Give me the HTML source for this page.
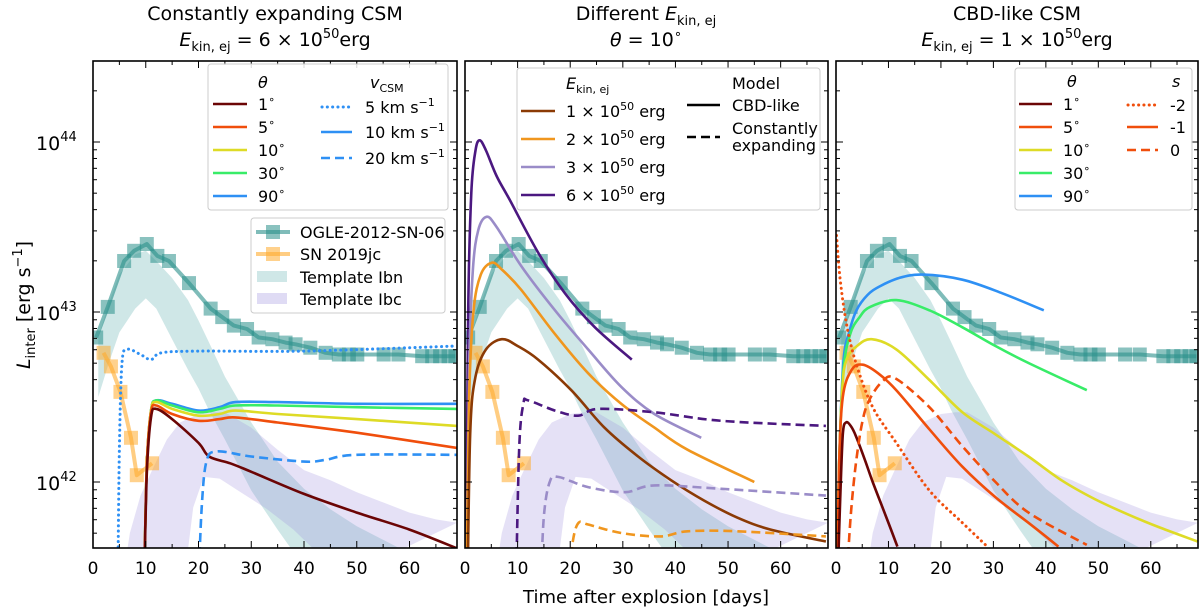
<!DOCTYPE html>
<html><head><meta charset="utf-8">
<style>
html,body{margin:0;padding:0;background:#fff;}
svg{display:block;font-family:"DejaVu Sans","Liberation Sans",sans-serif;}
</style></head>
<body>
<svg id="chart" width="1200" height="609" viewBox="0 0 1200 609" xmlns="http://www.w3.org/2000/svg">
<defs>
<clipPath id="c0"><rect x="93" y="61" width="364" height="487"/></clipPath>
<clipPath id="c1"><rect x="465" y="61" width="363" height="487"/></clipPath>
<clipPath id="c2"><rect x="836" y="61" width="362" height="487"/></clipPath>
</defs>
<g id="layer-bands"></g>
<g id="layer-obs"></g>
<g id="layer-models"></g>
<g id="layer-axes"></g>
<g id="layer-legend"></g>
<g id="layer-text">
<text x="275" y="20" font-size="19" text-anchor="middle">Constantly expanding CSM</text>
<text x="275" y="46" font-size="19" text-anchor="middle"><tspan font-style="italic">E</tspan><tspan font-size="13" dy="5">kin, ej</tspan><tspan dy="-5"> = 6 × 10</tspan><tspan font-size="13" dy="-8">50</tspan><tspan dy="8">erg</tspan></text>
<text x="646" y="20" font-size="19" text-anchor="middle">Different <tspan font-style="italic">E</tspan><tspan font-size="13" dy="5">kin, ej</tspan></text>
<text x="646" y="46" font-size="19" text-anchor="middle"><tspan font-style="italic">θ</tspan> = 10<tspan font-size="13" dy="-8">∘</tspan></text>
<text x="1017" y="20" font-size="19" text-anchor="middle">CBD-like CSM</text>
<text x="1017" y="46" font-size="19" text-anchor="middle"><tspan font-style="italic">E</tspan><tspan font-size="13" dy="5">kin, ej</tspan><tspan dy="-5"> = 1 × 10</tspan><tspan font-size="13" dy="-8">50</tspan><tspan dy="8">erg</tspan></text>
<text x="646" y="603" font-size="18" text-anchor="middle">Time after explosion [days]</text>
<text transform="translate(30,305) rotate(-90)" font-size="19" text-anchor="middle"><tspan font-style="italic">L</tspan><tspan font-size="13" dy="5">inter</tspan><tspan dy="-5"> [erg s</tspan><tspan font-size="13" dy="-8">−1</tspan><tspan dy="8">]</tspan></text>
</g>
</svg>
<script>
// ---- data (log10 L) ----
const ogleDays = [0.6,2.8,5.9,7.8,10.2,12.2,14.4,18.2,22.3,24.5,26.7,29.2,31.4,34,36.5,38.4,41.2,44.1,46.6,48.5,50.1,55.1,57.9,62.4,64.3,65.8,67.4,68.7];
const ogleVals = [42.85,43.03,43.3,43.36,43.4,43.33,43.3,43.17,43.02,42.97,42.92,42.9,42.85,42.84,42.82,42.81,42.79,42.76,42.75,42.75,42.75,42.75,42.75,42.74,42.74,42.74,42.74,42.74];
const jcDays = [2,3.4,5.2,7.2,8.3,11.2];
const jcVals = [42.76,42.68,42.53,42.26,42.04,42.11];
const ibnUpDays = [1,3,5,8,10,12,15,18,20,22,25,30,35,40,45,50,55,60,65,69];
const ibnUpVals = [42.85,43.05,43.22,43.34,43.36,43.3,43.2,43.07,42.95,42.82,42.62,42.35,42.12,41.96,41.84,41.74,41.66,41.58,41.5,41.45];
const ibnLoDays = [1,3,5,8,10,12,15,18,20,22,25,30,35,40,45,69];
const ibnLoVals = [42.5,42.7,42.88,43.02,43.08,43.02,42.84,42.66,42.55,42.42,42.25,41.95,41.72,41.5,41.4,41.4];
const ibcUpDays = [5.5,7,9,11.5,14,16.5,20,22.8,25,30,35,40,45,50,55,60,65,69];
const ibcUpVals = [41.4,41.7,41.92,42.09,42.25,42.35,42.4,42.41,42.41,42.32,42.19,42.07,42.01,41.94,41.88,41.82,41.78,41.76];
const ibcLoDays = [5.5,10,15,17.8,19,21,24,28,33,38,42,45];
const ibcLoVals = [41.4,41.4,41.4,41.55,41.85,42.03,42.02,41.94,41.84,41.72,41.6,41.4];

// panel 1: constantly expanding, theta & vCSM
const p1Days = [9.7,10.2,11,12,15,20,24,27,35,50,69];
const p1Theta90 = [41.4,42.1,42.42,42.48,42.46,42.42,42.44,42.47,42.47,42.46,42.46];
const p1Theta30 = [41.4,42.1,42.42,42.48,42.45,42.41,42.43,42.45,42.45,42.44,42.43];
const p1Theta10 = [41.4,42.1,42.42,42.47,42.43,42.39,42.40,42.42,42.40,42.37,42.33];
const p1Theta5  = [41.4,42.1,42.41,42.45,42.40,42.36,42.37,42.38,42.35,42.29,42.2];
const p1Theta1Days = [9.7,10.2,11,12,15,20,22,26,30,40,50,60,69];
const p1Theta1 = [41.4,42.05,42.38,42.43,42.37,42.23,42.15,42.11,42.06,41.93,41.82,41.72,41.61];
const p1V5Days = [4.7,5.0,5.5,6.5,9,11,13,20,40,69];
const p1V5 = [41.4,42.2,42.7,42.78,42.75,42.72,42.76,42.77,42.77,42.8];
const p1V20Days = [20,20.6,21.5,23.5,30,40,44,50,69];
const p1V20 = [41.4,41.85,42.12,42.18,42.15,42.12,42.13,42.16,42.16];

// panel 2: different Ekin
const p2E6Days = [0.2,0.6,1.2,2,2.8,4,6,8.5,13.9,19,24.7,31.7];
const p2E6 = [41.4,43.0,43.7,43.95,44.01,43.95,43.8,43.66,43.35,43.11,42.91,42.72];
const p2E3Days = [0.3,0.8,1.5,2.5,4.1,6,10.7,17.1,23.4,29.7,36,44.9];
const p2E3 = [41.4,42.7,43.25,43.48,43.56,43.5,43.27,43.01,42.78,42.56,42.4,42.26];
const p2E2Days = [0.3,0.8,1.6,3,5.1,7,10.7,17.1,23.4,29.7,36,42.3,55];
const p2E2 = [41.4,42.5,43.0,43.22,43.29,43.25,43.13,42.87,42.64,42.46,42.32,42.19,42.0];
const p2E1Days = [0.5,1,2,4,7,10,13.9,20.2,26.5,32.9,39.2,45.5,51.8,58.1,68.6];
const p2E1 = [41.4,42.3,42.62,42.78,42.84,42.8,42.72,42.54,42.32,42.15,42.01,41.89,41.79,41.72,41.65];
const p2E6ceDays = [9.7,10.3,11.1,12,17.1,21.5,25.3,36,48.7,68.6];
const p2E6ce = [41.4,42.2,42.46,42.48,42.42,42.39,42.43,42.41,42.36,42.33];
const p2E3ceDays = [14.4,15.0,16.1,17.7,23.4,30.4,36,48.7,68.6];
const p2E3ce = [41.4,41.8,42.0,42.03,41.97,41.94,41.98,41.96,41.92];
const p2E2ceDays = [19.8,20.5,21.6,23.4,29.7,37.2,42.3,51.8,68.6];
const p2E2ce = [41.4,41.65,41.76,41.75,41.7,41.68,41.71,41.71,41.68];

// panel 3: CBD-like
const p3T90Days = [0.2,0.6,1.4,2.5,3.9,6,8.3,12,16.5,24.1,31.7,39.6];
const p3T90 = [41.4,42.1,42.7,42.88,43.01,43.1,43.15,43.2,43.22,43.19,43.11,43.01];
const p3T30Days = [0.2,0.6,1.4,2.7,4.5,6.5,11.5,17.8,24.1,30.4,36.7,47.8];
const p3T30 = [41.4,42.1,42.65,42.87,42.97,43.03,43.07,43.01,42.91,42.8,42.7,42.54];
const p3T10Days = [0.2,0.6,1.2,2,4,6.8,11.5,17.8,24.1,30.4,36.7,43,49.3,55.6,61.9,68.9];
const p3T10 = [41.4,42.1,42.55,42.72,42.8,42.84,42.78,42.6,42.41,42.28,42.15,42.01,41.9,41.81,41.73,41.65];
const p3T5Days = [0.2,0.6,1.3,3,5.1,8,11.5,17.8,24.1,30.4,36.7,42.4];
const p3T5 = [41.4,42.1,42.5,42.66,42.69,42.64,42.54,42.31,42.09,41.91,41.76,41.62];
const p3T1Days = [0.3,0.8,1.3,1.9,2.8,3.8,5.5,7,9.5,11.7];
const p3T1 = [41.4,41.9,42.28,42.35,42.33,42.27,42.13,42.0,41.8,41.62];
const p3Sm2Days = [0.1,0.8,2,3.8,7,11.5,17.8,24.1,28.5];
const p3Sm2 = [43.45,43.19,42.93,42.7,42.44,42.23,41.95,41.76,41.63];
const p3S0Days = [2,2.8,3.8,5,6.3,8.8,11.3,17.8,24.1,30.4,36.7,47.8];
const p3S0 = [41.4,41.8,42.11,42.35,42.48,42.59,42.61,42.44,42.21,42.0,41.82,41.63];

const xTicks = [0,10,20,30,40,50,60];
const yMajors = [42,43,44];

// ---- scales ----
const PANELS = [{x0:93,x1:457},{x0:465,x1:828},{x0:836,x1:1198}];
const TOP = 61, BOT = 548, XMAX = 69;
const DOT = "0.1 5.2";
function X(p,d){return PANELS[p].x0 + d*(PANELS[p].x1-PANELS[p].x0)/XMAX;}
function Y(l){return 142 + (44-l)*170;}
const NS = "http://www.w3.org/2000/svg";
function mk(tag, attrs, parent){const e=document.createElementNS(NS,tag);for(const k in attrs)e.setAttribute(k,attrs[k]);parent.appendChild(e);return e;}
function smooth(pts){
  let d = "M"+pts[0][0].toFixed(1)+","+pts[0][1].toFixed(1);
  for(let i=0;i<pts.length-1;i++){
    const p0=pts[i-1]||pts[i], p1=pts[i], p2=pts[i+1], p3=pts[i+2]||p2;
    const c1=[p1[0]+(p2[0]-p0[0])/6, p1[1]+(p2[1]-p0[1])/6];
    const c2=[p2[0]-(p3[0]-p1[0])/6, p2[1]-(p3[1]-p1[1])/6];
    d+="C"+c1[0].toFixed(1)+","+c1[1].toFixed(1)+" "+c2[0].toFixed(1)+","+c2[1].toFixed(1)+" "+p2[0].toFixed(1)+","+p2[1].toFixed(1);
  }
  return d;
}
function pts(p,days,vals){return days.map((d,i)=>[X(p,d),Y(vals[i])]);}

const gB=document.getElementById('layer-bands'), gO=document.getElementById('layer-obs'),
      gM=document.getElementById('layer-models'), gA=document.getElementById('layer-axes'),
      gL=document.getElementById('layer-legend');

for(let p=0;p<3;p++){
  const cb=mk('g',{'clip-path':'url(#c'+p+')'},gB);
  const up=pts(p,ibnUpDays,ibnUpVals), lo=pts(p,ibnLoDays,ibnLoVals).reverse();
  const b1=mk('path',{d:"M"+up.concat(lo).map(q=>q[0].toFixed(1)+","+q[1].toFixed(1)).join("L")+"Z",fill:"rgb(95,175,175)","fill-opacity":"0.3"},cb);
  
  
  const up2=pts(p,ibcUpDays,ibcUpVals), lo2=pts(p,ibcLoDays,ibcLoVals).reverse();
  const b2=mk('path',{d:"M"+up2.concat(lo2).map(q=>q[0].toFixed(1)+","+q[1].toFixed(1)).join("L")+"Z",fill:"rgb(150,135,220)","fill-opacity":"0.25"},cb);
  
  

  const co=mk('g',{'clip-path':'url(#c'+p+')'},gO);
  const op=pts(p,ogleDays,ogleVals);
  const ol=mk('polyline',{points:op.map(q=>q.join(",")).join(" "),fill:"none",stroke:"#2a8f8a","stroke-opacity":"0.6","stroke-width":"4","stroke-linejoin":"round"},co);
  
  
  op.forEach(q=>{
    const r=mk('rect',{x:q[0]-7,y:q[1]-7,width:14,height:14,fill:"#2a8f8a","fill-opacity":"0.55"},co);
    
    
  });
  const jp=pts(p,jcDays,jcVals);
  const jl=mk('polyline',{points:jp.map(q=>q.join(",")).join(" "),fill:"none",stroke:"#ffab2e","stroke-opacity":"0.6","stroke-width":"4","stroke-linejoin":"round"},co);
  
  
  jp.forEach(q=>{
    const r=mk('rect',{x:q[0]-7,y:q[1]-7,width:14,height:14,fill:"#ffab2e","fill-opacity":"0.55"},co);
    
    
  });
}

const C = {dr:"#6b0505", rd:"#f04e0c", yl:"#dedb26", gr:"#38ec68", bl:"#2e90f4",
           br:"#8b3a05", or:"#f0961e", lv:"#9a8cc8", pu:"#4b1880"};
const models = [
 [0,p1Days,p1Theta90,C.bl,"", "p1-theta-90-line"],
 [0,p1Days,p1Theta30,C.gr,"", "p1-theta-30-line"],
 [0,p1Days,p1Theta10,C.yl,"", "p1-theta-10-line"],
 [0,p1Days,p1Theta5,C.rd,"", "p1-theta-5-line"],
 [0,p1Theta1Days,p1Theta1,C.dr,"", "p1-theta-1-line"],
 [0,p1V5Days,p1V5,C.bl,DOT, "p1-vcsm-5-line"],
 [0,p1V20Days,p1V20,C.bl,"9 5", "p1-vcsm-20-line"],
 [1,p2E6Days,p2E6,C.pu,"", "p2-e6-cbd-line"],
 [1,p2E3Days,p2E3,C.lv,"", "p2-e3-cbd-line"],
 [1,p2E2Days,p2E2,C.or,"", "p2-e2-cbd-line"],
 [1,p2E1Days,p2E1,C.br,"", "p2-e1-cbd-line"],
 [1,p2E6ceDays,p2E6ce,C.pu,"9 5", "p2-e6-expanding-line"],
 [1,p2E3ceDays,p2E3ce,C.lv,"9 5", "p2-e3-expanding-line"],
 [1,p2E2ceDays,p2E2ce,C.or,"9 5", "p2-e2-expanding-line"],
 [2,p3T90Days,p3T90,C.bl,"", "p3-theta-90-line"],
 [2,p3T30Days,p3T30,C.gr,"", "p3-theta-30-line"],
 [2,p3T10Days,p3T10,C.yl,"", "p3-theta-10-line"],
 [2,p3T5Days,p3T5,C.rd,"", "p3-theta-5-line"],
 [2,p3T1Days,p3T1,C.dr,"", "p3-theta-1-line"],
 [2,p3Sm2Days,p3Sm2,C.rd,DOT, "p3-s-minus2-line"],
 [2,p3S0Days,p3S0,C.rd,"9 5", "p3-s-0-line"]
];
const mg=[0,1,2].map(p=>mk('g',{'clip-path':'url(#c'+p+')'},gM));
models.forEach(m=>{
  const a={d:smooth(pts(m[0],m[1],m[2])),fill:"none",stroke:m[3],"stroke-width":m[4]===DOT?"3":"2.6","stroke-linecap":m[4]===DOT?"round":"butt"};
  if(m[4]) a["stroke-dasharray"]=m[4];
  const e=mk('path',a,mg[m[0]]);
  
  
});

// ---- axes ----
for(let p=0;p<3;p++){
  const x0=PANELS[p].x0,x1=PANELS[p].x1;
  const fr=mk('rect',{x:x0,y:TOP,width:x1-x0,height:BOT-TOP,fill:"none",stroke:"#000","stroke-width":"1.6"},gA);
  
  
  for(let d=0;d<=XMAX;d+=5){
    const xx=X(p,d), L=(d%10===0)?7:4;
    mk('line',{x1:xx,y1:BOT,x2:xx,y2:BOT-L,stroke:"#000","stroke-width":"1"},gA);
    mk('line',{x1:xx,y1:TOP,x2:xx,y2:TOP+L,stroke:"#000","stroke-width":"1"},gA);
  }
  xTicks.forEach(t=>{
    const tx=mk('text',{x:X(p,t),y:574,"font-size":"17","text-anchor":"middle"},gA);
    tx.textContent=t;
    
    
  });
  for(let dec=41;dec<=44;dec++){
    for(let k=1;k<=9;k++){
      const l=dec+Math.log10(k), yy=Y(l);
      if(yy<TOP||yy>BOT) continue;
      const L=(k===1)?7:4;
      mk('line',{x1:x0,y1:yy,x2:x0+L,y2:yy,stroke:"#000","stroke-width":"1"},gA);
      mk('line',{x1:x1,y1:yy,x2:x1-L,y2:yy,stroke:"#000","stroke-width":"1"},gA);
    }
  }
}
yMajors.forEach(v=>{
  const t=mk('text',{x:36,y:Y(v)+8,"font-size":"19"},gA);
  t.innerHTML='10<tspan font-size="13" dy="-9">'+v+'</tspan>';
  
  
});

// ---- legends ----
function box(x,y,w,h,name){const r=mk('rect',{x:x,y:y,width:w,height:h,rx:3,fill:"#fff","fill-opacity":"0.85",stroke:"#ccc","stroke-width":"1"},gL);}
function entry(x1,x2,y,col,dash,label,tx,name,w){
  const g=mk('g',{},gL);
  
  
  const a={x1:x1,y1:y,x2:x2,y2:y,stroke:col,"stroke-width":w||"2.6"};
  if(dash){a["stroke-dasharray"]=dash; if(dash===DOT){a["stroke-linecap"]="round";a["stroke-width"]="3";}}
  mk('line',a,g);
  const t=mk('text',{x:tx,y:y+6,"font-size":"16"},g);
  t.innerHTML=label;
  return g;
}
function txt(x,y,html,name,anchor){const t=mk('text',{x:x,y:y,"font-size":"16","text-anchor":anchor||"start"},gL);t.innerHTML=html;}
const deg='<tspan font-size="11" dy="-7">∘</tspan>';
// panel 1
box(208,64,240,146,'legend-theta-vcsm');
txt(258,88,'<tspan font-style="italic">θ</tspan>','legend-theta-header');
[[C.dr,"1"],[C.rd,"5"],[C.yl,"10"],[C.gr,"30"],[C.bl,"90"]].forEach((e,i)=>entry(213,247,104+i*23,e[0],"",e[1]+deg,258,'legend-entry-theta-'+e[1]));
txt(370,88,'<tspan font-style="italic">v</tspan><tspan font-size="11" dy="4">CSM</tspan>','legend-vcsm-header');
entry(322,352,107,C.bl,DOT,'5 km s<tspan font-size="11" dy="-7">−1</tspan>',365,'legend-entry-vcsm-5');
entry(321,352,132,C.bl,"",'10 km s<tspan font-size="11" dy="-7">−1</tspan>',365,'legend-entry-vcsm-10');
entry(321,352,158,C.bl,"9 5",'20 km s<tspan font-size="11" dy="-7">−1</tspan>',365,'legend-entry-vcsm-20');
box(251,218,194,95,'legend-observations');
[["#2a8f8a","OGLE-2012-SN-06"],["#ffab2e","SN 2019jc"]].forEach((e,i)=>{
  const y=232+i*22;
  const g=entry(256,290,y,e[0],"",e[1],300,'legend-entry-'+(i?'sn-2019jc':'ogle'),"4");
  g.firstChild.setAttribute('stroke-opacity','0.6');
  mk('rect',{x:266,y:y-7,width:14,height:14,fill:e[0],"fill-opacity":"0.55"},g);
});
[["rgb(95,175,175)",0.3,"Template Ibn"],["rgb(150,135,220)",0.3,"Template Ibc"]].forEach((e,i)=>{
  const y=277+i*22;
  const g=mk('g',{},gL);
  
  
  mk('rect',{x:257,y:y-6,width:30,height:11,fill:e[0],"fill-opacity":e[1]},g);
  const t=mk('text',{x:300,y:y+6,"font-size":"16"},g);t.textContent=e[2];
});
// panel 2
box(517,68,303,142,'legend-ekin-model');
txt(566,89,'<tspan font-style="italic">E</tspan><tspan font-size="11" dy="4">kin, ej</tspan>','legend-ekin-header');
[[C.br,"1"],[C.or,"2"],[C.lv,"3"],[C.pu,"6"]].forEach((e,i)=>entry(521,555,111+i*28,e[0],"",e[1]+' × 10<tspan font-size="11" dy="-7">50</tspan><tspan dy="7"> erg</tspan>',566,'legend-entry-ekin-'+e[1]));
txt(732,89,'Model','legend-model-header');
entry(687,720,105,"#000","",'CBD-like',732,'legend-entry-cbd-like');
entry(687,720,137,"#000","9 5",'',732,'legend-entry-constantly-expanding');
txt(732,134,'Constantly','legend-constantly-label');
txt(732,151,'expanding','legend-expanding-label');
// panel 3
box(1015,68,177,142,'legend-theta-s');
txt(1067,87,'<tspan font-style="italic">θ</tspan>','legend-theta3-header');
[[C.dr,"1"],[C.rd,"5"],[C.yl,"10"],[C.gr,"30"],[C.bl,"90"]].forEach((e,i)=>entry(1019,1052,104+i*23,e[0],"",e[1]+deg,1063,'legend3-entry-theta-'+e[1]));
txt(1172,87,'<tspan font-style="italic">s</tspan>','legend-s-header');
entry(1128,1158,105,C.rd,DOT,'-2',1170,'legend-entry-s-minus2');
entry(1127,1158,127,C.rd,"",'-1',1170,'legend-entry-s-minus1');
entry(1127,1158,150,C.rd,"9 5",'0',1170,'legend-entry-s-0');
</script>
</body></html>
